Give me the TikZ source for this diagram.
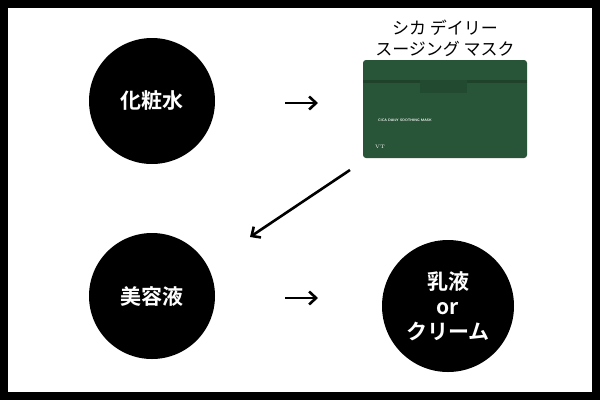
\documentclass[tikz,border=0pt]{standalone}
\usepackage{fontspec}
\newfontfamily\cjk{Noto Sans CJK JP}
\newfontfamily\cjkb{Noto Sans CJK JP Bold}
\usetikzlibrary{arrows.meta}
\definecolor{boxg}{RGB}{40,84,56}
\definecolor{boxd}{RGB}{30,66,42}
\definecolor{boxm}{RGB}{34,74,48}
\begin{document}
\begin{tikzpicture}[x=1pt,y=-1pt,
  circ/.style={circle,fill=black,minimum size=126pt,inner sep=0pt,text=white,font=\cjkb\fontsize{21}{25}\selectfont,align=center},
  arr/.style={line width=2.6pt,-{Straight Barb[length=7pt,width=13pt]}}]
\fill[black] (0,0) rectangle (600,400);
\fill[white] (8,8) rectangle (592,392);
\node[circ] (a) at (152,101) {化粧水};
\node[circ] (b) at (152,296) {美容液};
\node[circ,minimum size=132pt] (c) at (448,306) {乳液\\or\\クリーム};
% product box
\node[inner sep=0pt,minimum width=164pt,minimum height=98pt,fill=boxg,rounded corners=3pt] (m) at (445,109) {};
\fill[boxd] (363,80) rectangle (527,83);
\fill[boxm] (420,80) rectangle (467,93);
\node[anchor=west,text=white,font=\sffamily\bfseries\fontsize{3.5}{4}\selectfont,inner sep=0pt] at (378,120) {CICA DAILY SOOTHING MASK};
\node[anchor=west,text=white,font=\rmfamily\fontsize{5}{6}\selectfont,inner sep=0pt] at (375,147) {VT};
\node[font=\cjk\fontsize{17}{21}\selectfont,align=center,inner sep=0pt,anchor=south] (t) at (445,57) {シカ デイリー\\スージング マスク};
\coordinate (s1) at (350,170); \coordinate (e1) at (250,237);
\draw[arr] (285,103) -- (318,103);
\draw[arr] (s1) -- (e1);
\draw[arr] (285,298) -- (318,298);
\end{tikzpicture}
\end{document}
